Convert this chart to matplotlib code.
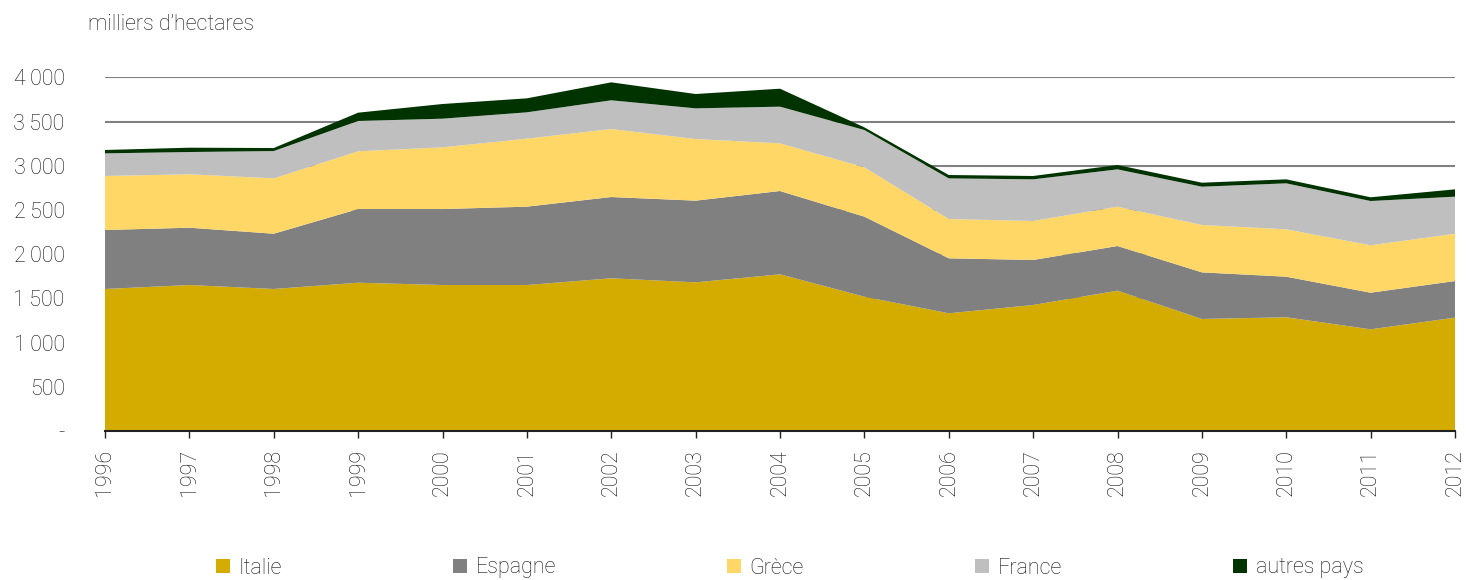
import matplotlib
matplotlib.use("Agg")
import matplotlib.pyplot as plt
from matplotlib.patches import Patch
import numpy as np

years = list(range(1996, 2013))
italie = [1606, 1651, 1606, 1677, 1651, 1651, 1727, 1681, 1772, 1519, 1331, 1425, 1587, 1267, 1286, 1150, 1282]
espagne = [667, 648, 625, 833, 859, 886, 919, 924, 942, 905, 622, 509, 505, 527, 459, 414, 414]
grece = [611, 604, 626, 653, 698, 769, 769, 697, 539, 558, 444, 441, 445, 536, 536, 536, 535]
france = [256, 252, 309, 343, 324, 298, 325, 347, 415, 422, 460, 471, 422, 433, 520, 501, 419]
autres = [38, 49, 34, 94, 166, 158, 203, 162, 203, 30, 38, 38, 49, 45, 45, 42, 83]

series_names = ["Italie", "Espagne", "Grèce", "France", "autres pays"]
colors = ["#D4AC00", "#808080", "#FED766", "#BFBFBF", "#003300"]
yticks = [0, 500, 1000, 1500, 2000, 2500, 3000, 3500, 4000]
ytick_labels = ["-", "500", "1\u2009000", "1\u2009500", "2\u2009000", "2\u2009500", "3\u2009000", "3\u2009500", "4\u2009000"]

FONT = ["Roboto", "DejaVu Sans"]
plt.rcParams["font.family"] = FONT
plt.rcParams["font.weight"] = "light"
TXT = "#111111"

fig = plt.figure(figsize=(14.67, 5.8), dpi=100)
ax = fig.add_axes([105 / 1467, 1 - 431 / 580, 1350 / 1467, (431 - 77.3) / 580])

ax.stackplot(years, italie, espagne, grece, france, autres, colors=colors, linewidth=0, zorder=2)

ax.set_xlim(1996, 2012)
ax.set_ylim(0, 4000)
ax.set_yticks(yticks)
ax.set_yticklabels(ytick_labels, fontsize=15.5, color=TXT)
ax.set_xticks(years)
ax.set_xticklabels([str(y) for y in years], rotation=90, fontsize=15.5, color=TXT)
ax.grid(axis="y", color="#808080", linewidth=1.5, zorder=0)
ax.set_axisbelow(True)
for s in ["top", "right", "left"]:
    ax.spines[s].set_visible(False)
ax.spines["bottom"].set_color("#222222")
ax.spines["bottom"].set_linewidth(1.5)
ax.tick_params(axis="y", length=0, pad=29)
ax.tick_params(axis="x", length=5, width=1, color="#222222", pad=8)
for lbl in ax.get_yticklabels():
    lbl.set_horizontalalignment("right")

fig.text(88 / 1467, 1 - 24 / 580, "milliers d\u2019hectares", fontsize=15.5, color=TXT,
         ha="left", va="center")

handles = [Patch(facecolor=c, edgecolor="none") for c in colors]
fig.legend(handles, series_names, loc="center left", bbox_to_anchor=(205 / 1467, 1 - 568 / 580),
           ncol=5, frameon=False, fontsize=15.5, columnspacing=7.95, handlelength=0.65,
           handleheight=0.65, handletextpad=0.4, borderpad=0, labelcolor=TXT)

fig.savefig("out.png", dpi=100)
